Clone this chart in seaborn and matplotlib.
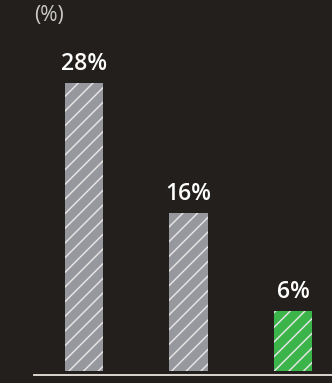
import matplotlib
matplotlib.use("Agg")
import matplotlib.pyplot as plt
import seaborn as sns

# data (bar heights, labels as printed)
categories = ["a", "b", "c"]
values = [28.0, 15.4, 5.8]
labels = ["28%", "16%", "6%"]
bar_colors = ["#97989d", "#97989d", "#3bb54a"]

DPI = 88
W, H = 332, 383


def px(n):
    # pixels -> points
    return n * 72 / DPI


sns.set_style("white")
plt.rcParams["font.family"] = ["Open Sans", "DejaVu Sans"]
plt.rcParams["hatch.linewidth"] = px(1.5)

bg = "#231f1c"
fig = plt.figure(figsize=(W / DPI, H / DPI), dpi=DPI, facecolor=bg)
ax = fig.add_axes([34 / W, 12 / H, 298 / W, 371 / H])
ax.set_facecolor(bg)

sns.barplot(x=categories, y=values, hue=categories, palette=bar_colors,
            width=0.364, legend=False, ax=ax, saturation=1)

for p in ax.patches:
    p.set_hatch("//")
    p.set_edgecolor("#e4e4e4")
    p.set_linewidth(0)

for i, (v, lab) in enumerate(zip(values, labels)):
    ax.annotate(lab, (i, v), xytext=(0, 13), textcoords="offset pixels",
                ha="center", va="baseline", color="white",
                fontsize=px(23), fontweight="semibold")

ax.set_xlim(-0.478, 2.373)
ax.set_ylim(0, 36.05)
ax.set_xticks([])
ax.set_yticks([])
ax.set_xlabel("")
ax.set_ylabel("")
for s in ["top", "right", "left"]:
    ax.spines[s].set_visible(False)
ax.spines["bottom"].set_position(("outward", px(4)))
ax.spines["bottom"].set_color("#ebe7df")
ax.spines["bottom"].set_linewidth(px(1.8))

fig.text(34 / W, 1 - 15.5 / H, "(%)", ha="left", va="center",
         color="#c9c9c9", fontsize=px(21))

fig.savefig("out.png", dpi=DPI, facecolor=bg)
